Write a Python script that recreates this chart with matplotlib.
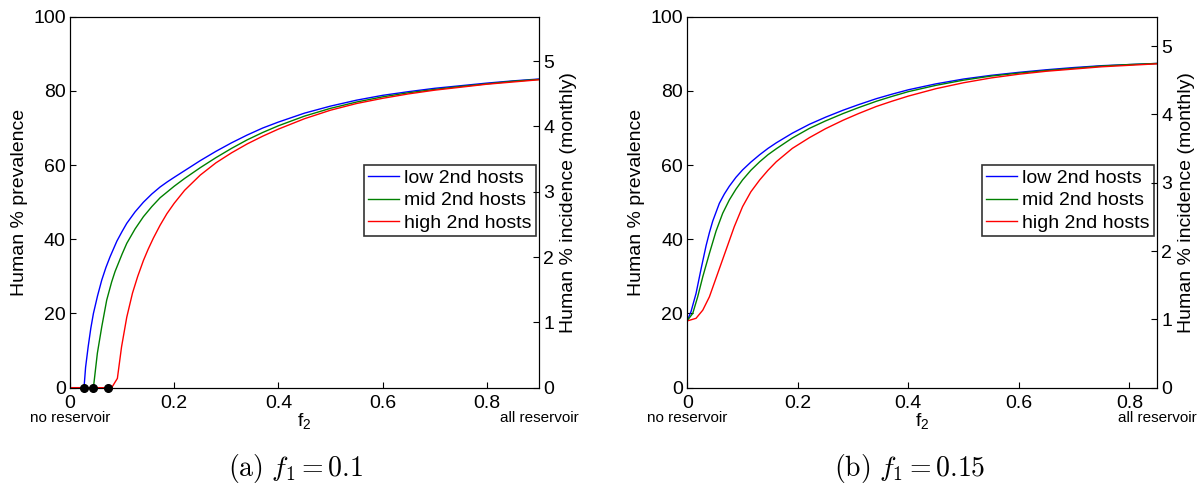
import matplotlib
matplotlib.use("Agg")
import matplotlib.pyplot as plt
import matplotlib.transforms as mtransforms

plt.rcParams['font.family'] = ['Liberation Sans', 'DejaVu Sans']

labels = ["low 2nd hosts", "mid 2nd hosts", "high 2nd hosts"]
colors = ["#0000ff", "#008000", "#ff0000"]

# panel (a): f1 = 0.1
a_x_low = [0, 0.027, 0.030, 0.035, 0.04, 0.045, 0.053, 0.061, 0.069, 0.077, 0.09, 0.1,
           0.109, 0.125, 0.141, 0.157, 0.173, 0.187, 0.2, 0.22, 0.25, 0.28, 0.31, 0.34,
           0.37, 0.4, 0.45, 0.5, 0.55, 0.6, 0.65, 0.7, 0.75, 0.8, 0.85, 0.9]
a_y_low = [0, 0, 5.5, 11.1, 16, 20, 24.8, 29, 32.4, 35.3, 39.5, 42.1,
           44.3, 47.4, 50.0, 52.2, 54.1, 55.5, 56.7, 58.5, 61.2, 63.7, 66.0, 68.1,
           70.0, 71.6, 74.0, 75.9, 77.5, 78.8, 79.8, 80.7, 81.4, 82.1, 82.7, 83.2]
a_x_mid = [0, 0.045, 0.0526, 0.061, 0.0705, 0.08, 0.0865, 0.1, 0.109, 0.125, 0.141,
           0.157, 0.173, 0.2, 0.22, 0.25, 0.28, 0.31, 0.34, 0.37, 0.4, 0.45, 0.5,
           0.55, 0.6, 0.65, 0.7, 0.75, 0.8, 0.85, 0.9]
a_y_mid = [0, 0, 9.3, 16.4, 23.6, 28.5, 31.3, 36, 38.9, 42.8, 46.1,
           48.8, 51.2, 54.3, 56.4, 59.3, 62.0, 64.5, 66.8, 68.8, 70.6, 73.2, 75.3,
           77.0, 78.4, 79.5, 80.4, 81.2, 81.9, 82.6, 83.1]
a_x_high = [0, 0.08, 0.091, 0.099, 0.109, 0.12, 0.13, 0.141, 0.15, 0.16, 0.173, 0.186,
            0.2, 0.22, 0.25, 0.28, 0.31, 0.34, 0.37, 0.4, 0.45, 0.5, 0.55, 0.6,
            0.65, 0.7, 0.75, 0.8, 0.85, 0.9]
a_y_high = [0, 0, 2.5, 11, 19, 25.5, 30, 34.3, 37.3, 40.3, 43.8, 46.9,
            49.7, 53.2, 57.3, 60.6, 63.3, 65.7, 67.8, 69.7, 72.5, 74.8, 76.6, 78.0,
            79.2, 80.2, 81.0, 81.8, 82.4, 83.0]
a_thresholds = [0.027, 0.045, 0.0725]

# panel (b): f1 = 0.15
b_x_low = [0, 0.0067, 0.0158, 0.0249, 0.034, 0.04, 0.046, 0.058, 0.067, 0.076, 0.088,
           0.1, 0.115, 0.131, 0.146, 0.161, 0.19, 0.221, 0.25, 0.282, 0.31, 0.342,
           0.37, 0.4, 0.45, 0.5, 0.55, 0.6, 0.65, 0.7, 0.75, 0.8, 0.85]
b_y_low = [18.1, 20.5, 25.4, 32.0, 38.3, 41.8, 44.9, 49.7, 52.2, 54.3, 56.7,
           58.7, 60.8, 62.8, 64.5, 66.0, 68.6, 71.0, 72.9, 74.8, 76.3, 77.9,
           79.1, 80.3, 81.9, 83.2, 84.2, 85.0, 85.7, 86.3, 86.8, 87.1, 87.4]
b_x_mid = [0, 0.0098, 0.0188, 0.028, 0.04, 0.052, 0.064, 0.076, 0.088, 0.1, 0.115,
           0.131, 0.146, 0.161, 0.19, 0.221, 0.25, 0.282, 0.31, 0.342, 0.37, 0.4,
           0.45, 0.5, 0.55, 0.6, 0.65, 0.7, 0.75, 0.8, 0.85]
b_y_mid = [18.1, 20, 24.5, 29.9, 36.2, 42.2, 47, 50.6, 53.5, 56, 58.6,
           60.9, 62.8, 64.4, 67.3, 69.9, 71.9, 73.9, 75.5, 77.2, 78.5, 79.8,
           81.5, 82.9, 84.0, 84.8, 85.5, 86.1, 86.7, 87.1, 87.4]
b_x_high = [0, 0.0158, 0.028, 0.04, 0.055, 0.07, 0.085, 0.1, 0.115, 0.131, 0.146,
            0.161, 0.19, 0.221, 0.25, 0.282, 0.31, 0.342, 0.37, 0.4, 0.45, 0.5,
            0.55, 0.6, 0.65, 0.7, 0.75, 0.8, 0.85]
b_y_high = [18, 18.7, 20.9, 24.5, 30.8, 37.1, 43.4, 48.8, 52.8, 56, 58.6,
            60.9, 64.5, 67.4, 69.8, 72.1, 73.9, 75.8, 77.2, 78.6, 80.6, 82.2,
            83.5, 84.5, 85.3, 85.9, 86.5, 86.9, 87.3]

x_ticks = [0, 0.2, 0.4, 0.6, 0.8]
x_ticklabels = ["0", "0.2", "0.4", "0.6", "0.8"]
left_ticks = [0, 20, 40, 60, 80, 100]
right_ticks = [0, 1, 2, 3, 4, 5]


def draw_panel(rect, xmax, rmax, curves, caption, cap_x, thresholds=None):
    ax = fig.add_axes(rect)
    for (xs, ys), c, lab in zip(curves, colors, labels):
        ax.plot(xs, ys, color=c, lw=1.0, label=lab)
    if thresholds:
        ax.plot(thresholds, [0] * len(thresholds), 'o', color='black',
                markersize=5.5, zorder=5, clip_on=False)
    ax.set_xlim(0, xmax)
    ax.set_ylim(0, 100)
    ax.set_xticks(x_ticks)
    ax.set_xticklabels(x_ticklabels)
    ax.set_yticks(left_ticks)
    ax.tick_params(direction='in', length=4, labelsize=14, pad=3)
    ax.tick_params(axis='x', pad=5)
    ax.set_ylabel("Human % prevalence", fontsize=14, labelpad=4)
    ax.text(0.5, -0.064, r"f$_\mathregular{2}$", transform=ax.transAxes,
            ha='center', va='top', fontsize=14)
    trans = mtransforms.blended_transform_factory(ax.transData, ax.transAxes)
    ax.text(0, -0.082, "no reservoir", transform=trans, ha='center', va='center',
            fontsize=11)
    ax.text(xmax, -0.082, "all reservoir", transform=trans, ha='center', va='center',
            fontsize=11)
    leg = ax.legend(loc='upper right', bbox_to_anchor=(0.993, 0.60), fontsize=14,
                    frameon=True, fancybox=False, edgecolor='black',
                    handlelength=1.6, handletextpad=0.25, labelspacing=0.25,
                    borderpad=0.22, borderaxespad=0)
    leg.get_frame().set_linewidth(1.2)

    ax2 = ax.twinx()
    ax2.set_ylim(0, rmax)
    ax2.set_yticks(right_ticks)
    ax2.tick_params(direction='in', length=4, labelsize=14, pad=3)
    ax2.set_ylabel("Human % incidence (monthly)", fontsize=14, labelpad=4)

    fig.text(cap_x, 0.033, caption, ha='center', va='center', fontsize=20,
             math_fontfamily='cm')
    return ax


fig = plt.figure(figsize=(12.02, 4.84), dpi=100)

draw_panel([0.0582, 0.199, 0.3902, 0.7665], 0.9, 5.68,
           [(a_x_low, a_y_low), (a_x_mid, a_y_mid), (a_x_high, a_y_high)],
           r"$\mathrm{(a)}\ f_1 = 0.1$", 0.246, thresholds=a_thresholds)
draw_panel([0.5718, 0.199, 0.3908, 0.7665], 0.85, 5.43,
           [(b_x_low, b_y_low), (b_x_mid, b_y_mid), (b_x_high, b_y_high)],
           r"$\mathrm{(b)}\ f_1 = 0.15$", 0.757)

fig.savefig("out.png", dpi=100)
